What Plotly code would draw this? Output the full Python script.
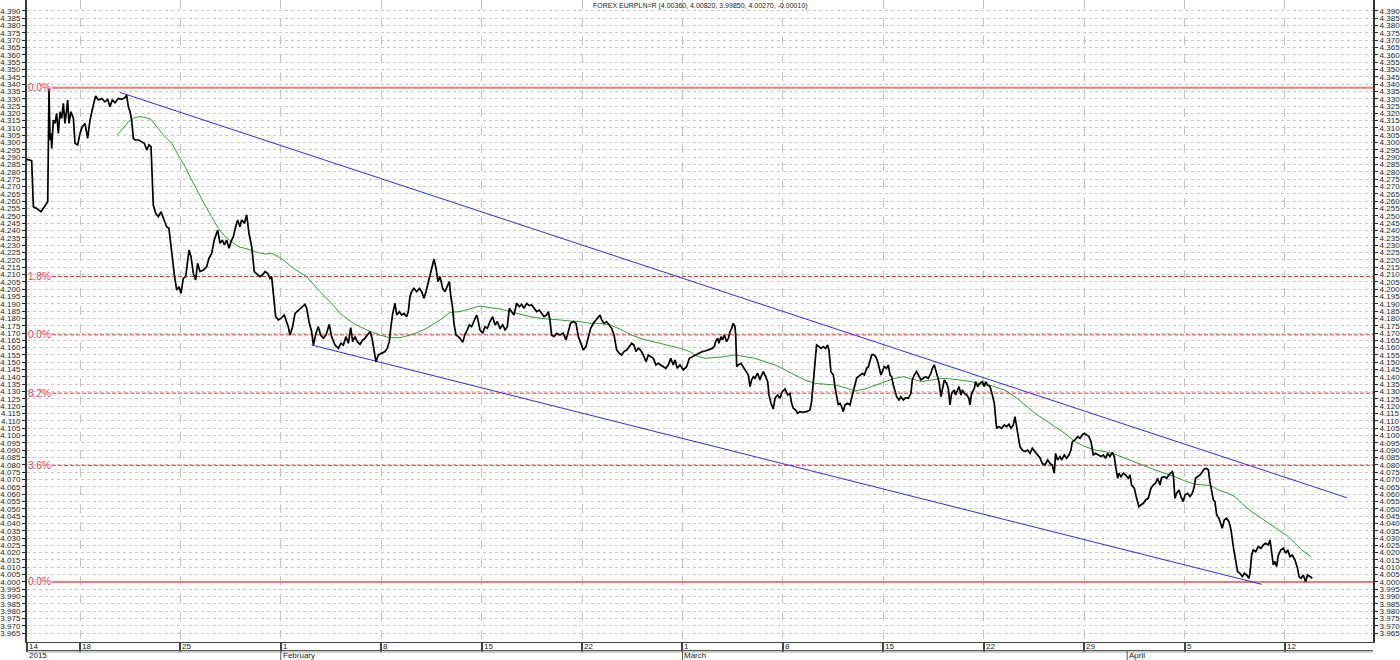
import pandas as pd
import plotly.graph_objects as go

BASE = pd.Timestamp("2015-01-18")
X_START = pd.Timestamp("2015-01-14 07:20")
X_END = pd.Timestamp("2015-04-18 03:20")
Y_MIN, Y_MAX = 3.9590, 4.3974

TITLE = "FOREX EURPLN=R (4.00360, 4.00820, 3.99850, 4.00270, -0.00010)"

# price: (days since 2015-01-18, EUR/PLN)
price_jan = [
    (-3.72, 4.2886), (-3.37, 4.2877), (-3.25, 4.2563), (-3.02, 4.2551), (-2.72, 4.2528), (-2.44, 4.2567),
    (-2.25, 4.2597), (-2.16, 4.3370), (-2.09, 4.3018), (-2.02, 4.3063), (-1.97, 4.2961), (-1.86, 4.3154),
    (-1.74, 4.3131), (-1.63, 4.3200), (-1.51, 4.3063), (-1.39, 4.3211), (-1.28, 4.3166), (-1.16, 4.3268),
    (-1.05, 4.3131), (-0.93, 4.3222), (-0.86, 4.3291), (-0.77, 4.3131), (-0.63, 4.3211), (-0.46, 4.3166),
    (-0.35, 4.2995), (-0.16, 4.2984), (0.00, 4.3063), (0.16, 4.3109), (0.35, 4.3131), (0.53, 4.3029),
    (0.70, 4.3154), (0.93, 4.3257), (1.09, 4.3318), (1.28, 4.3291), (1.51, 4.3302), (1.74, 4.3279),
    (1.93, 4.3295), (2.09, 4.3245), (2.25, 4.3291), (2.44, 4.3273), (2.67, 4.3302), (2.91, 4.3295),
    (3.14, 4.3309), (3.25, 4.3325), (3.37, 4.3245), (3.49, 4.3211), (3.60, 4.3154), (3.72, 4.3029),
    (3.83, 4.3018), (4.07, 4.3018), (4.30, 4.3006), (4.49, 4.2995), (4.65, 4.2949), (4.81, 4.2984),
    (4.95, 4.2972), (5.11, 4.2574), (5.28, 4.2517), (5.46, 4.2494), (5.65, 4.2528), (5.81, 4.2483),
    (6.04, 4.2426), (6.20, 4.2415), (6.39, 4.2244), (6.58, 4.2096), (6.74, 4.1994), (6.90, 4.2016),
    (7.04, 4.1971), (7.20, 4.2073), (7.37, 4.2085), (7.51, 4.2187), (7.60, 4.2267), (7.74, 4.2221),
    (7.90, 4.2107), (8.06, 4.2062), (8.20, 4.2176), (8.37, 4.2119), (8.60, 4.2130), (8.83, 4.2153),
    (8.99, 4.2210), (9.18, 4.2244), (9.36, 4.2335), (9.60, 4.2403), (9.76, 4.2312), (9.92, 4.2335),
    (10.06, 4.2301), (10.22, 4.2335), (10.39, 4.2278), (10.53, 4.2324), (10.69, 4.2358), (10.85, 4.2426),
    (10.99, 4.2472), (11.15, 4.2426), (11.27, 4.2472), (11.46, 4.2449), (11.62, 4.2506), (11.78, 4.2381),
    (11.97, 4.2289), (12.15, 4.2119), (12.32, 4.2107), (12.55, 4.2085), (12.71, 4.2096), (12.90, 4.2119),
    (13.08, 4.2107), (13.25, 4.2073), (13.36, 4.2085), (13.48, 4.1971), (13.64, 4.1812), (13.83, 4.1789),
    (14.01, 4.1800), (14.24, 4.1823),
]
price_feb = [
    (14.36, 4.1789), (14.52, 4.1743), (14.64, 4.1686), (14.82, 4.1743), (14.99, 4.1834), (15.22, 4.1857),
    (15.45, 4.1880), (15.68, 4.1896), (15.80, 4.1869), (15.99, 4.1766), (16.15, 4.1709), (16.27, 4.1618),
    (16.45, 4.1698), (16.61, 4.1743), (16.78, 4.1686), (16.96, 4.1664), (17.15, 4.1686), (17.38, 4.1759),
    (17.54, 4.1675), (17.78, 4.1618), (18.01, 4.1596), (18.19, 4.1630), (18.36, 4.1618), (18.54, 4.1675),
    (18.71, 4.1630), (18.87, 4.1737), (19.01, 4.1641), (19.17, 4.1675), (19.33, 4.1641), (19.52, 4.1623),
    (19.70, 4.1652), (19.87, 4.1664), (20.03, 4.1686), (20.22, 4.1709), (20.36, 4.1664), (20.52, 4.1550),
    (20.63, 4.1504), (20.80, 4.1550), (21.03, 4.1561), (21.26, 4.1573), (21.42, 4.1596), (21.56, 4.1641),
    (21.66, 4.1732), (21.80, 4.1834), (21.96, 4.1903), (22.08, 4.1823), (22.26, 4.1846), (22.42, 4.1823),
    (22.59, 4.1834), (22.77, 4.1812), (22.89, 4.1846), (23.00, 4.1948), (23.12, 4.1982), (23.28, 4.2005),
    (23.47, 4.1982), (23.66, 4.2005), (23.82, 4.1982), (23.98, 4.1937), (24.12, 4.1982), (24.28, 4.2051),
    (24.45, 4.2119), (24.68, 4.2205), (24.82, 4.2142), (24.96, 4.2051), (25.10, 4.2085), (25.28, 4.2005),
    (25.44, 4.1982), (25.61, 4.2028), (25.75, 4.2051), (25.84, 4.1960), (25.98, 4.1869), (26.07, 4.1766),
    (26.21, 4.1686), (26.37, 4.1675), (26.49, 4.1664), (26.68, 4.1636), (26.84, 4.1691), (27.00, 4.1721),
    (27.14, 4.1755), (27.30, 4.1743), (27.47, 4.1789), (27.65, 4.1823), (27.77, 4.1778), (27.88, 4.1721),
    (28.07, 4.1698), (28.23, 4.1743), (28.40, 4.1732), (28.58, 4.1778), (28.77, 4.1812), (28.93, 4.1755),
    (29.09, 4.1778), (29.28, 4.1732), (29.47, 4.1755), (29.63, 4.1721), (29.79, 4.1743), (29.93, 4.1869),
    (30.09, 4.1846), (30.25, 4.1823), (30.44, 4.1903), (30.63, 4.1880), (30.79, 4.1896), (30.95, 4.1869),
    (31.14, 4.1903), (31.32, 4.1887), (31.49, 4.1891), (31.65, 4.1869), (31.83, 4.1846), (32.02, 4.1857),
    (32.18, 4.1834), (32.35, 4.1812), (32.53, 4.1823), (32.65, 4.1846), (32.76, 4.1789), (32.88, 4.1686),
    (33.04, 4.1675), (33.23, 4.1698), (33.46, 4.1686), (33.69, 4.1698), (33.88, 4.1652), (34.04, 4.1709),
    (34.20, 4.1766), (34.39, 4.1778), (34.58, 4.1766), (34.74, 4.1675), (34.90, 4.1630), (35.09, 4.1584),
    (35.27, 4.1607), (35.44, 4.1664), (35.60, 4.1732), (35.79, 4.1766), (35.97, 4.1789), (36.13, 4.1812),
    (36.25, 4.1823), (36.37, 4.1789), (36.53, 4.1766), (36.71, 4.1778), (36.90, 4.1755), (37.06, 4.1732),
    (37.23, 4.1686), (37.41, 4.1584), (37.60, 4.1561), (37.76, 4.1550), (37.92, 4.1573), (38.11, 4.1584),
    (38.29, 4.1607), (38.46, 4.1630), (38.62, 4.1618), (38.76, 4.1573), (38.92, 4.1596), (39.08, 4.1584),
    (39.27, 4.1550), (39.46, 4.1504), (39.62, 4.1550), (39.78, 4.1539), (39.97, 4.1527), (40.15, 4.1482),
    (40.32, 4.1493), (40.48, 4.1482), (40.66, 4.1470), (40.85, 4.1459), (41.01, 4.1482), (41.18, 4.1527),
    (41.36, 4.1482), (41.48, 4.1516), (41.64, 4.1459), (41.83, 4.1482), (42.06, 4.1448), (42.29, 4.1470),
    (42.48, 4.1527), (42.71, 4.1539), (42.94, 4.1550),
]
price_mar = [
    (43.06, 4.1555), (43.22, 4.1561), (43.38, 4.1573), (43.57, 4.1577), (43.75, 4.1584), (43.92, 4.1589),
    (44.08, 4.1595), (44.22, 4.1607), (44.31, 4.1641), (44.45, 4.1664), (44.54, 4.1630), (44.68, 4.1675),
    (44.78, 4.1652), (44.92, 4.1687), (45.08, 4.1641), (45.20, 4.1664), (45.31, 4.1709), (45.43, 4.1732),
    (45.54, 4.1766), (45.66, 4.1743), (45.71, 4.1687), (45.78, 4.1470), (45.89, 4.1482), (46.08, 4.1493),
    (46.24, 4.1470), (46.36, 4.1448), (46.47, 4.1436), (46.59, 4.1413), (46.71, 4.1334), (46.82, 4.1379),
    (46.94, 4.1402), (47.05, 4.1391), (47.24, 4.1425), (47.40, 4.1379), (47.52, 4.1413), (47.64, 4.1436),
    (47.80, 4.1402), (47.94, 4.1368), (48.03, 4.1277), (48.17, 4.1220), (48.33, 4.1181), (48.45, 4.1254),
    (48.63, 4.1277), (48.80, 4.1254), (48.96, 4.1300), (49.15, 4.1318), (49.33, 4.1277), (49.49, 4.1288),
    (49.61, 4.1220), (49.73, 4.1186), (49.89, 4.1174), (50.03, 4.1152), (50.19, 4.1163), (50.42, 4.1159),
    (50.66, 4.1163), (50.89, 4.1174), (51.00, 4.1231), (51.12, 4.1368), (51.24, 4.1482), (51.35, 4.1618),
    (51.52, 4.1607), (51.66, 4.1595), (51.82, 4.1607), (51.98, 4.1595), (52.12, 4.1618), (52.21, 4.1584),
    (52.35, 4.1436), (52.52, 4.1413), (52.63, 4.1334), (52.75, 4.1277), (52.86, 4.1209), (52.98, 4.1220),
    (53.10, 4.1197), (53.21, 4.1163), (53.33, 4.1209), (53.51, 4.1220), (53.68, 4.1209), (53.79, 4.1254),
    (53.91, 4.1300), (54.03, 4.1345), (54.14, 4.1391), (54.26, 4.1402), (54.37, 4.1413), (54.54, 4.1425),
    (54.68, 4.1413), (54.84, 4.1459), (54.96, 4.1470), (55.07, 4.1504), (55.19, 4.1550), (55.30, 4.1554),
    (55.47, 4.1539), (55.61, 4.1504), (55.70, 4.1459), (55.84, 4.1413), (55.93, 4.1436), (56.07, 4.1470),
    (56.23, 4.1459), (56.35, 4.1482), (56.47, 4.1413), (56.58, 4.1402), (56.70, 4.1345), (56.81, 4.1300),
    (56.93, 4.1265), (57.09, 4.1243), (57.23, 4.1265), (57.40, 4.1243), (57.56, 4.1259), (57.74, 4.1254),
    (57.93, 4.1288), (58.02, 4.1379), (58.16, 4.1413), (58.32, 4.1436), (58.49, 4.1402), (58.63, 4.1379),
    (58.79, 4.1391), (58.95, 4.1402), (59.14, 4.1391), (59.32, 4.1425), (59.42, 4.1459), (59.56, 4.1482),
    (59.65, 4.1448), (59.79, 4.1391), (59.88, 4.1368), (60.02, 4.1265), (60.11, 4.1322), (60.25, 4.1379),
    (60.42, 4.1356), (60.53, 4.1322), (60.65, 4.1209), (60.76, 4.1288), (60.95, 4.1311), (61.04, 4.1277),
    (61.18, 4.1311), (61.28, 4.1334), (61.42, 4.1277), (61.51, 4.1311), (61.65, 4.1288), (61.81, 4.1277),
    (61.97, 4.1254), (62.04, 4.1209), (62.16, 4.1288), (62.35, 4.1322), (62.44, 4.1368), (62.58, 4.1334),
    (62.74, 4.1356), (62.90, 4.1368), (63.04, 4.1334), (63.13, 4.1368), (63.27, 4.1345), (63.44, 4.1334),
    (63.60, 4.1277), (63.74, 4.1220), (63.90, 4.1049),
]
price_apr = [
    (64.06, 4.1061), (64.25, 4.1049), (64.44, 4.1072), (64.60, 4.1061), (64.76, 4.1077), (64.90, 4.1049),
    (65.06, 4.1072), (65.18, 4.1129), (65.30, 4.1038), (65.41, 4.0992), (65.53, 4.0924), (65.69, 4.0901),
    (65.88, 4.0890), (66.06, 4.0901), (66.23, 4.0878), (66.39, 4.0913), (66.57, 4.0890), (66.76, 4.0867),
    (66.92, 4.0849), (67.08, 4.0810), (67.27, 4.0799), (67.46, 4.0833), (67.62, 4.0810), (67.78, 4.0799),
    (67.92, 4.0742), (68.01, 4.0878), (68.15, 4.0833), (68.32, 4.0856), (68.43, 4.0833), (68.62, 4.0867),
    (68.78, 4.0844), (68.94, 4.0867), (69.08, 4.0901), (69.18, 4.0958), (69.36, 4.0970), (69.55, 4.0992),
    (69.71, 4.0981), (69.87, 4.1004), (70.01, 4.1015), (70.18, 4.1004), (70.34, 4.0992), (70.48, 4.0958),
    (70.64, 4.0867), (70.80, 4.0878), (70.99, 4.0867), (71.17, 4.0856), (71.34, 4.0867), (71.50, 4.0844),
    (71.64, 4.0878), (71.80, 4.0856), (71.96, 4.0885), (72.10, 4.0856), (72.20, 4.0788), (72.34, 4.0708),
    (72.43, 4.0742), (72.57, 4.0719), (72.73, 4.0742), (72.89, 4.0731), (73.08, 4.0708), (73.20, 4.0731),
    (73.31, 4.0662), (73.50, 4.0640), (73.66, 4.0571), (73.82, 4.0514), (73.96, 4.0526), (74.13, 4.0537),
    (74.29, 4.0560), (74.47, 4.0571), (74.66, 4.0640), (74.82, 4.0662), (74.98, 4.0674), (75.12, 4.0708),
    (75.29, 4.0662), (75.40, 4.0712), (75.59, 4.0719), (75.75, 4.0708), (75.91, 4.0731), (76.05, 4.0742),
    (76.15, 4.0753), (76.22, 4.0731), (76.33, 4.0571), (76.45, 4.0605), (76.61, 4.0628), (76.75, 4.0583),
    (76.91, 4.0549), (77.03, 4.0594), (77.22, 4.0605), (77.38, 4.0583), (77.54, 4.0605), (77.68, 4.0651),
    (77.77, 4.0708), (77.91, 4.0719), (78.08, 4.0731), (78.24, 4.0753), (78.38, 4.0772), (78.54, 4.0776),
    (78.66, 4.0765), (78.77, 4.0685), (78.89, 4.0617), (79.01, 4.0560), (79.12, 4.0549), (79.24, 4.0458),
    (79.40, 4.0435), (79.54, 4.0401), (79.63, 4.0367), (79.77, 4.0423), (79.93, 4.0435), (80.10, 4.0412),
    (80.24, 4.0355), (80.40, 4.0241), (80.56, 4.0139), (80.70, 4.0071), (80.86, 4.0059), (81.03, 4.0037),
    (81.17, 4.0059), (81.33, 4.0048), (81.49, 4.0025), (81.56, 4.0059), (81.68, 4.0184), (81.79, 4.0219),
    (81.96, 4.0207), (82.14, 4.0241), (82.33, 4.0230), (82.49, 4.0253), (82.65, 4.0264), (82.84, 4.0253),
    (82.96, 4.0287), (83.07, 4.0184), (83.19, 4.0116), (83.30, 4.0139), (83.42, 4.0105), (83.54, 4.0184),
    (83.72, 4.0219), (83.89, 4.0230), (84.05, 4.0196), (84.19, 4.0219), (84.35, 4.0173), (84.51, 4.0184),
    (84.70, 4.0150), (84.88, 4.0093), (84.98, 4.0037), (85.12, 4.0025), (85.28, 4.0048), (85.44, 4.0002),
    (85.58, 4.0048), (85.74, 4.0037), (85.91, 4.0025),
]

# moving average (green)
ma_points = [
    (2.56, 4.3052), (2.91, 4.3086), (3.37, 4.3143), (3.83, 4.3172), (4.18, 4.3177), (4.53, 4.3172),
    (4.95, 4.3159), (5.34, 4.3109), (5.81, 4.3052), (6.39, 4.2995), (6.85, 4.2915), (7.32, 4.2836),
    (7.78, 4.2745), (8.25, 4.2654), (8.71, 4.2574), (9.18, 4.2494), (9.64, 4.2415), (10.11, 4.2358),
    (10.57, 4.2324), (11.04, 4.2289), (11.50, 4.2278), (11.97, 4.2262), (12.43, 4.2249), (12.90, 4.2239),
    (13.36, 4.2244), (13.83, 4.2221), (14.24, 4.2194), (14.87, 4.2142), (15.80, 4.2085), (16.73, 4.1982),
    (17.66, 4.1891), (18.12, 4.1834), (19.05, 4.1766), (19.98, 4.1721), (20.91, 4.1686), (21.61, 4.1668),
    (22.31, 4.1668), (23.24, 4.1691), (24.17, 4.1732), (25.10, 4.1789), (25.79, 4.1841), (26.49, 4.1846),
    (27.19, 4.1864), (27.88, 4.1884), (28.58, 4.1873), (29.28, 4.1864), (29.98, 4.1846), (30.67, 4.1828),
    (31.37, 4.1812), (32.07, 4.1801), (32.76, 4.1793), (33.46, 4.1789), (34.16, 4.1782), (34.86, 4.1778),
    (35.55, 4.1766), (36.25, 4.1766), (36.95, 4.1755), (37.64, 4.1727), (38.34, 4.1691), (39.04, 4.1664),
    (39.74, 4.1646), (40.43, 4.1630), (41.13, 4.1614), (41.83, 4.1596), (42.52, 4.1573), (42.95, 4.1545),
    (43.57, 4.1527), (44.27, 4.1532), (44.96, 4.1539), (45.66, 4.1550), (46.36, 4.1539), (47.05, 4.1527),
    (47.75, 4.1504), (48.45, 4.1482), (49.15, 4.1448), (49.84, 4.1413), (50.54, 4.1379), (51.24, 4.1356),
    (51.93, 4.1350), (52.63, 4.1345), (53.33, 4.1327), (54.03, 4.1304), (54.72, 4.1318), (55.42, 4.1341),
    (56.12, 4.1368), (56.81, 4.1391), (57.40, 4.1402), (57.98, 4.1386), (58.67, 4.1368), (59.37, 4.1379),
    (60.07, 4.1391), (60.76, 4.1386), (61.46, 4.1379), (62.16, 4.1368), (62.86, 4.1350), (63.55, 4.1341),
    (64.06, 4.1322), (64.48, 4.1311), (65.18, 4.1265), (65.88, 4.1209), (66.57, 4.1152), (67.27, 4.1106),
    (67.97, 4.1061), (68.66, 4.1015), (69.36, 4.0958), (70.06, 4.0924), (70.76, 4.0901), (71.45, 4.0890),
    (72.15, 4.0872), (72.85, 4.0844), (73.55, 4.0817), (74.24, 4.0788), (74.94, 4.0765), (75.64, 4.0742),
    (76.33, 4.0719), (77.03, 4.0690), (77.73, 4.0667), (78.42, 4.0662), (78.89, 4.0656), (79.35, 4.0628),
    (80.05, 4.0605), (80.52, 4.0583), (80.98, 4.0537), (81.68, 4.0480), (82.38, 4.0435), (83.07, 4.0389),
    (83.77, 4.0344), (84.23, 4.0310), (84.70, 4.0264), (85.16, 4.0219), (85.81, 4.0173),
]

channel_upper = [(2.79, 4.3343), (88.32, 4.0575)]
channel_lower = [(16.15, 4.1618), (82.38, 3.9984)]

fib_high, fib_low = 4.3375, 4.0000
fib_ratios = [1.0, 0.618, 0.5, 0.382, 0.236, 0.0]
fib_labels = ["0.0%", "1.8%", "0.0%", "8.2%", "3.6%", "0.0%"]
fib_start_day = -1.95

week_ticks = [X_START] + [pd.Timestamp(d) for d in [
    "2015-01-18", "2015-01-25", "2015-02-01", "2015-02-08", "2015-02-15", "2015-02-22",
    "2015-03-01", "2015-03-08", "2015-03-15", "2015-03-22", "2015-03-29", "2015-04-05", "2015-04-12"]]
week_labels = ["14", "18", "25", "1", "8", "15", "22", "1", "8", "15", "22", "29", "5", "12"]
month_ticks = [X_START] + [pd.Timestamp(d) for d in ["2015-02-01", "2015-03-01", "2015-04-01"]]
month_labels = ["2015", "February", "March", "April"]
y_ticks = [round(3.965 + 0.005 * i, 3) for i in range(86)]


def to_xy(points):
    xs = [BASE + pd.Timedelta(days=d) for d, _ in points]
    ys = [v for _, v in points]
    return xs, ys


FONT = "Liberation Sans, Arial, sans-serif"
PH = 642.0  # plot height in px (for paper offsets below the axis)
fig = go.Figure()

# Fibonacci levels
fib_x0 = BASE + pd.Timedelta(days=fib_start_day)
for r in fib_ratios:
    level = fib_low + r * (fib_high - fib_low)
    solid = r in (0.0, 1.0)
    fig.add_trace(go.Scatter(
        x=[fib_x0, X_END], y=[level, level], mode="lines",
        line=dict(color="#f27a7a" if solid else "#ff2a2a", width=2 if solid else 1,
                  dash="solid" if solid else "4px,2px"),
        hoverinfo="skip", showlegend=False))

for ch in (channel_upper, channel_lower):
    xs, ys = to_xy(ch)
    fig.add_trace(go.Scatter(x=xs, y=ys, mode="lines", line=dict(color="#2b2bff", width=1),
                             hoverinfo="skip", showlegend=False))

xs, ys = to_xy(ma_points)
fig.add_trace(go.Scatter(x=xs, y=ys, mode="lines", line=dict(color="#2ea02e", width=1),
                         showlegend=False))

xs, ys = to_xy(price_jan + price_feb + price_mar + price_apr)
fig.add_trace(go.Scatter(x=xs, y=ys, mode="lines", line=dict(color="#000000", width=1.7),
                         showlegend=False))

# invisible trace for the right axis
fig.add_trace(go.Scatter(x=[X_START], y=[Y_MIN], yaxis="y2", mode="markers",
                         marker=dict(opacity=0), hoverinfo="skip", showlegend=False))

annotations = []
for r, lab in zip(fib_ratios, fib_labels):
    level = fib_low + r * (fib_high - fib_low)
    annotations.append(dict(x=0, xref="paper", y=level, yref="y", text=lab, showarrow=False,
                            xanchor="left", yanchor="middle", xshift=-1,
                            font=dict(family=FONT, size=10, color="#ff3355")))
for tv, lab in zip(week_ticks, week_labels):
    annotations.append(dict(x=tv, xref="x", y=-4.5 / PH, yref="paper", text=lab, showarrow=False,
                            xanchor="left", yanchor="middle", xshift=0,
                            font=dict(family=FONT, size=8, color="#222")))
for tv, lab in zip(month_ticks, month_labels):
    annotations.append(dict(x=tv, xref="x", y=-13.6 / PH, yref="paper", text=lab, showarrow=False,
                            xanchor="left", yanchor="middle", xshift=0,
                            font=dict(family=FONT, size=8, color="#222")))
annotations.append(dict(x=0.5, xref="paper", y=1, yref="paper", text=TITLE, showarrow=False,
                        xanchor="center", yanchor="top", yshift=0,
                        font=dict(family=FONT, size=7, color="#222")))

shapes = [
    dict(type="line", xref="paper", yref="paper", x0=0, x1=1, y0=-8.5 / PH, y1=-8.5 / PH,
         line=dict(color="#555", width=1)),
    dict(type="line", xref="paper", yref="paper", x0=0, x1=1, y0=-10 / PH, y1=-10 / PH,
         line=dict(color="#999", width=1)),
]
for tv in month_ticks[1:]:
    shapes.append(dict(type="line", xref="x", yref="paper", x0=tv, x1=tv, y0=-8.5 / PH, y1=-18 / PH,
                       line=dict(color="#555", width=1)))

yaxis_common = dict(range=[Y_MIN, Y_MAX], tickvals=y_ticks, tickformat=".3f", ticks="outside",
                    ticklen=3, tickcolor="#222", tickfont=dict(family=FONT, size=8, color="#222"),
                    showline=True, linecolor="#333", linewidth=2, zeroline=False)

fig.update_layout(
    width=1400, height=660,
    margin=dict(l=27, r=27, t=0, b=18),
    paper_bgcolor="white", plot_bgcolor="white",
    showlegend=False,
    font=dict(family=FONT, size=8, color="#222"),
    xaxis=dict(type="date", range=[X_START, X_END], tickvals=week_ticks, showticklabels=False,
               ticks="outside", ticklen=9, tickwidth=2, tickcolor="#444",
               showgrid=True, gridcolor="#c4c4c4", griddash="dash", gridwidth=1,
               showline=True, linecolor="#444", linewidth=1, zeroline=False),
    yaxis=dict(side="left", showgrid=True, gridcolor="#c8c8c8", griddash="dot", gridwidth=1,
               **yaxis_common),
    yaxis2=dict(side="right", overlaying="y", showgrid=False, **yaxis_common),
    annotations=annotations,
    shapes=shapes,
)

fig.write_html(
    "out.html",
    config={"displayModeBar": False},
    post_script="document.body.style.margin='0';document.body.style.overflow='hidden';",
)
